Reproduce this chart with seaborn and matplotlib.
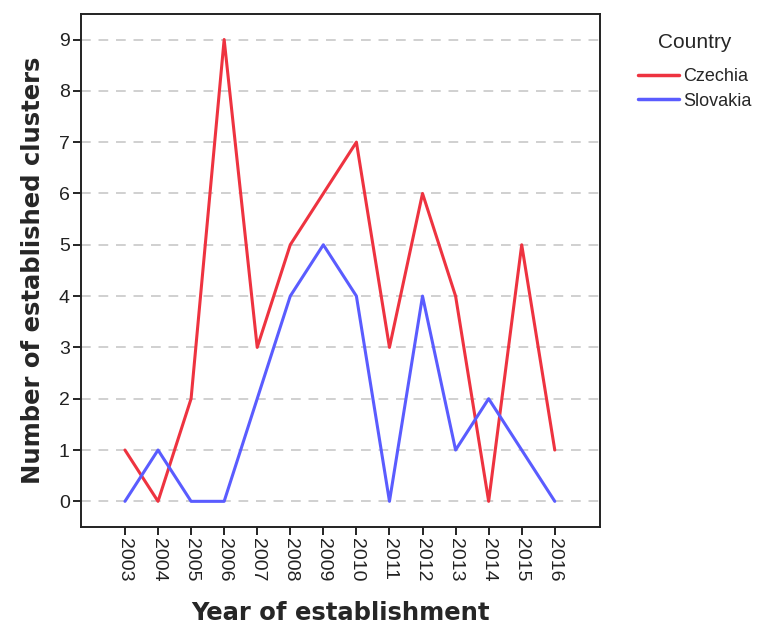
import matplotlib
matplotlib.use("Agg")
import matplotlib.pyplot as plt
import seaborn as sns
import pandas as pd

years = [2003, 2004, 2005, 2006, 2007, 2008, 2009, 2010, 2011, 2012, 2013, 2014, 2015, 2016]
czechia = [1, 0, 2, 9, 3, 5, 6, 7, 3, 6, 4, 0, 5, 1]
slovakia = [0, 1, 0, 0, 2, 4, 5, 4, 0, 4, 1, 2, 1, 0]
countries = ["Czechia", "Slovakia"]
colors = ["#ee3340", "#5a5cff"]

df = pd.DataFrame({
    "Year": years * 2,
    "Count": czechia + slovakia,
    "Country": ["Czechia"] * len(years) + ["Slovakia"] * len(years),
})

sns.set_style("white")
plt.rcParams['font.family'] = ['Liberation Sans', 'DejaVu Sans']

fig = plt.figure(figsize=(7.64, 6.3), dpi=100)
ax = fig.add_axes([0.106, 0.1635, 0.679, 0.8145])

for yv in range(0, 10):
    ax.axhline(yv, color="#d0d0d0", lw=1.4, ls=(0, (5, 4)), zorder=0)

sns.lineplot(data=df, x="Year", y="Count", hue="Country", hue_order=countries,
             palette=colors, lw=2.2, ax=ax, legend=True)

ax.set_xlim(2003 - 1.33, 2016 + 1.36)
ax.set_ylim(-0.5, 9.5)
ax.set_xticks(years)
ax.set_xticklabels([str(y) for y in years], rotation=270, fontsize=14)
ax.set_yticks(range(0, 10))
ax.set_yticklabels([str(v) for v in range(0, 10)], fontsize=14)
ax.tick_params(axis="both", direction="out", length=6, width=1.2, color="black",
               bottom=True, left=True, pad=2, labelcolor="#222222")
for s in ax.spines.values():
    s.set_color("#222222")
    s.set_linewidth(1.4)

ax.set_xlabel("Year of establishment", fontsize=17.5, fontweight="bold", labelpad=14,
              family="DejaVu Sans")
ax.set_ylabel("Number of established clusters", fontsize=17.5, fontweight="bold", labelpad=10,
              family="DejaVu Sans")

leg = ax.legend(title="Country", loc="upper left", bbox_to_anchor=(0.835, 0.948),
                bbox_transform=fig.transFigure,
                frameon=False, fontsize=13, title_fontsize=15, handlelength=2.3,
                handletextpad=0.2, labelspacing=0.4, borderaxespad=0, borderpad=0)
leg._legend_box.align = "center"
leg._legend_box.sep = 12
for line in leg.get_lines():
    line.set_linewidth(2.5)

fig.savefig("out.png", dpi=100)
